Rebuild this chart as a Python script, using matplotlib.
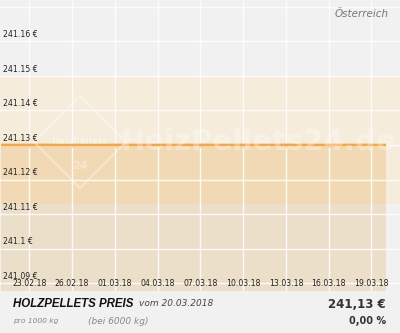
import matplotlib
matplotlib.use("Agg")
import matplotlib.pyplot as plt
import matplotlib.dates as mdates
import matplotlib.transforms as mtransforms
from matplotlib.patches import Polygon
import numpy as np
import datetime as dt

# data
dates = [dt.date(2018, 2, 21) + dt.timedelta(days=i) for i in range(28)]
prices = [241.13, 241.13, 241.13, 241.13, 241.13, 241.13, 241.13,
          241.13, 241.13, 241.13, 241.13, 241.13, 241.13, 241.13,
          241.13, 241.13, 241.13, 241.13, 241.13, 241.13, 241.13,
          241.13, 241.13, 241.13, 241.13, 241.13, 241.13, 241.13]
band_low = 241.113
band_high = 241.15
y_ticks = [241.09, 241.10, 241.11, 241.12, 241.13, 241.14, 241.15, 241.16, 241.17]
y_labels = ["241.09 €", "241.1 €", "241.11 €", "241.12 €", "241.13 €",
            "241.14 €", "241.15 €", "241.16 €", ""]
x_ticks = ["23.02.18", "26.02.18", "01.03.18", "04.03.18", "07.03.18",
           "10.03.18", "13.03.18", "16.03.18", "19.03.18"]
region = "Österreich"
title = "HOLZPELLETS PREIS"
date_text = "vom 20.03.2018"
unit_text = "pro 1000 kg"
amount_text = "(bei 6000 kg)"
price_text = "241,13 €"
change_text = "0,00 %"

bg = "#f1f1f1"
W, H = 400, 333

fig = plt.figure(figsize=(4, 3.33), dpi=100)
fig.patch.set_facecolor(bg)
ax = fig.add_axes([0, 42 / H, 1, 291 / H])
ax.set_facecolor(bg)

x = mdates.date2num(dates)
y = np.array(prices)
ymin, ymax = 241.0877, 241.172
ax.set_ylim(ymin, ymax)
ax.set_xlim(mdates.date2num(dt.date(2018, 2, 21)) - 0.05,
            mdates.date2num(dt.date(2018, 3, 21)))

# band, area and their overlap
ax.axhspan(band_low, band_high, color="#f5ecdc", lw=0, zorder=1)
ax.fill_between(x, ymin, y, color="#ecdfca", lw=0, zorder=2)
ax.fill_between(x, band_low, np.minimum(y, band_high), color="#f1d9b5", lw=0, zorder=3)

# grid
for t in y_ticks:
    ax.axhline(t, color="white", lw=1, alpha=0.85, zorder=4)
tick_dates = [mdates.date2num(dt.datetime.strptime(s, "%d.%m.%y")) for s in x_ticks]
for t in tick_dates:
    ax.axvline(t, color="white", lw=1, alpha=0.85, zorder=4)

# line
ax.plot(x, y, color="#f7d9a8", lw=3.5, zorder=5, solid_capstyle="butt")
ax.plot(x, y, color="#eea752", lw=1.6, zorder=6, solid_capstyle="butt")

for s in ax.spines.values():
    s.set_visible(False)
ax.set_xticks([])
ax.set_yticks([])

# tick labels inside the plot
ty = mtransforms.blended_transform_factory(ax.transAxes, ax.transData)
for t, lab in zip(y_ticks, y_labels):
    ax.text(3 / W, t + 0.0006, lab, transform=ty, fontsize=5.6, color="#222222",
            ha="left", va="bottom", zorder=8)
tx = mtransforms.blended_transform_factory(ax.transData, ax.transAxes)
for t, lab in zip(tick_dates, x_ticks):
    ax.text(t, 7 / 291, lab, transform=tx, fontsize=5.6, color="#222222",
            ha="center", va="center", zorder=8)

# watermark
ax.text(258 / W, 1 - 142 / 291, "HeizPellets24.de", transform=ax.transAxes,
        fontsize=21, fontweight="bold", color="white", alpha=0.3,
        ha="center", va="center", zorder=7)
cx, cy, r = 80 / W, 1 - 142 / 291, 46
diamond = Polygon([(cx, cy + r / 291), (cx + r / W, cy), (cx, cy - r / 291), (cx - r / W, cy)],
                  closed=True, fill=False, ec="white", lw=1.5, alpha=0.35,
                  transform=ax.transAxes, zorder=7)
ax.add_patch(diamond)
ax.text(cx, cy, "HeizPellets", transform=ax.transAxes, fontsize=6.5,
        fontweight="bold", color="white", alpha=0.35, ha="center", va="center", zorder=7)
ax.text(cx, cy - 24 / 291, "24", transform=ax.transAxes, fontsize=8,
        fontweight="bold", color="white", alpha=0.35, ha="center", va="center", zorder=7)

# header / footer texts
fig.text(389 / W, 1 - 14 / H, region, fontsize=7.5, style="italic", color="#777777",
         ha="right", va="center")
fig.text(13 / W, 1 - 304 / H, title, fontsize=8.3, style="italic", fontweight="bold",
         family="Liberation Sans", color="#111111", ha="left", va="center")
fig.text(139 / W, 1 - 304 / H, date_text, fontsize=6.5, style="italic",
         color="#444444", ha="left", va="center")
fig.text(13 / W, 1 - 321 / H, unit_text, fontsize=5.4, style="italic",
         color="#888888", ha="left", va="center")
fig.text(88 / W, 1 - 321 / H, amount_text, fontsize=6.5, style="italic",
         color="#888888", ha="left", va="center")
fig.text(386 / W, 1 - 304 / H, price_text, fontsize=8.5, fontweight="bold",
         color="#333333", ha="right", va="center")
fig.text(386 / W, 1 - 321 / H, change_text, fontsize=7, fontweight="bold",
         color="#333333", ha="right", va="center")

fig.savefig("out.png", dpi=100, facecolor=bg)
